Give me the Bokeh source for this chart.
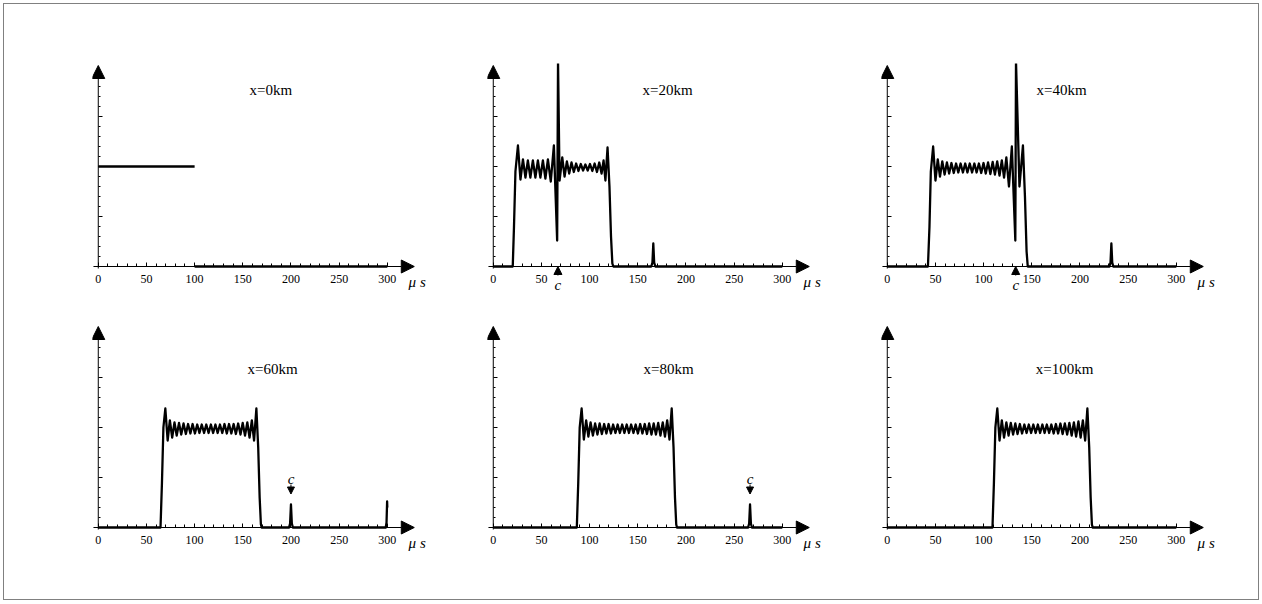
from bokeh.plotting import figure
from bokeh.layouts import gridplot
from bokeh.models import Arrow, NormalHead, FixedTicker, LinearAxis
from bokeh.core.properties import value
from bokeh.embed import file_html
from bokeh.resources import INLINE

nan = float("nan")

# ---------------- data ----------------
TITLES = ["x=0km", "x=20km", "x=40km", "x=60km", "x=80km", "x=100km"]
X_TICKS = [0, 50, 100, 150, 200, 250, 300]
X_MINOR = [0, 10, 20, 30, 40, 50, 60, 70, 80, 90, 100, 110, 120, 130, 140, 150,
           160, 170, 180, 190, 200, 210, 220, 230, 240, 250, 260, 270, 280, 290, 300]
Y_TICKS = [0.5, 1.0, 1.5]
Y_MINOR = [0.1, 0.2, 0.3, 0.4, 0.6, 0.7, 0.8, 0.9, 1.1, 1.2, 1.3, 1.4,
           1.6, 1.7, 1.8, 1.9]

# x = 0 km : the input step (drawn with a break at the jump)
t00 = [0.0, 100.0, nan, 100.0, 300.0]
v00 = [1.0, 1.0, nan, 0.0, 0.0]

# x = 20 km
t20_rise = [0.0, 20.2, 21.5, 23.0]
v20_rise = [0.0, 0.0, 0.4, 0.95]
t20_a = [25.6, 28.2, 30.8, 33.4, 35.9, 38.5, 41.1, 43.7, 46.3, 48.9, 51.5, 54.1, 56.7, 59.7, 62.9]
v20_a = [1.21, 0.87, 1.07, 0.89, 1.06, 0.89, 1.06, 0.89, 1.06, 0.89, 1.06, 0.88, 1.07, 0.85, 1.21]
t20_spike = [66.3, 67.2, 68.8]
v20_spike = [0.26, 2.05, 0.86]
t20_b = [71.6, 74.0, 76.4, 78.8, 81.2, 83.6, 86.0, 88.4, 90.8, 93.2,
         95.6, 98.0, 100.4, 102.8, 105.2, 107.6, 110.0, 112.4, 114.5, 116.4, 118.6]
v20_b = [1.09, 0.90, 1.05, 0.93, 1.04, 0.945, 1.03, 0.955, 1.025, 0.96,
         1.02, 0.96, 1.025, 0.955, 1.03, 0.945, 1.04, 0.93, 1.06, 0.86, 1.19]
t20_fall = [120.6, 122.2, 123.6, 124.6]
v20_fall = [0.8, 0.3, 0.03, 0.0]
t20_pulse = [164.0, 165.2, 166.1, 167.0, 168.2, 300.0]
v20_pulse = [0.0, 0.04, 0.23, 0.04, 0.0, 0.0]

# x = 40 km
t40_rise = [0.0, 42.2, 43.8, 45.2]
v40_rise = [0.0, 0.0, 0.4, 0.95]
t40_a = [47.6, 50.0, 52.4, 54.7, 57.1, 59.5, 61.9, 64.2, 66.6, 69.0,
         71.4, 73.7, 76.1, 78.5, 80.9, 83.2, 85.6, 88.0, 90.4, 92.7,
         95.1, 97.5, 99.9, 102.2, 104.6, 107.0, 109.4, 111.7, 114.1, 116.5,
         118.9, 121.2, 123.6]
v40_a = [1.20, 0.86, 1.07, 0.90, 1.05, 0.92, 1.04, 0.93, 1.035, 0.935,
         1.03, 0.94, 1.03, 0.94, 1.03, 0.94, 1.03, 0.94, 1.03, 0.94,
         1.03, 0.935, 1.035, 0.93, 1.04, 0.925, 1.045, 0.92, 1.05, 0.91,
         1.06, 0.89, 1.09]
t40_spike = [126.3, 129.3, 132.9, 133.6, 137.2, 140.8]
v40_spike = [0.80, 1.20, 0.26, 2.05, 0.80, 1.21]
t40_fall = [142.9, 144.6, 145.8]
v40_fall = [0.7, 0.15, 0.0]
t40_pulse = [230.6, 231.7, 232.6, 233.5, 234.6, 300.0]
v40_pulse = [0.0, 0.04, 0.23, 0.04, 0.0, 0.0]

# x = 60 km
t60_rise = [0.0, 64.6, 66.1, 67.6]
v60_rise = [0.0, 0.0, 0.45, 1.0]
t60_a = [69.6, 72.0, 74.3, 76.7, 79.1, 81.4, 83.8, 86.1, 88.5, 90.9,
         93.2, 95.6, 97.9, 100.3, 102.7, 105.0, 107.4, 109.8, 112.1, 114.5,
         116.9, 119.2, 121.6, 123.9, 126.3, 128.7, 131.0, 133.4, 135.7, 138.1,
         140.5, 142.8, 145.2, 147.6, 149.9, 152.3, 154.7, 157.0, 159.4, 161.7,
         164.1]
v60_a = [1.19, 0.87, 1.07, 0.90, 1.05, 0.92, 1.045, 0.93, 1.04, 0.935,
         1.035, 0.94, 1.035, 0.94, 1.03, 0.945, 1.03, 0.945, 1.03, 0.945,
         1.03, 0.945, 1.03, 0.945, 1.03, 0.945, 1.035, 0.94, 1.035, 0.94,
         1.035, 0.935, 1.04, 0.93, 1.045, 0.92, 1.05, 0.90, 1.07, 0.87,
         1.19]
t60_fall = [166.0, 167.5, 168.8, 169.6]
v60_fall = [0.8, 0.3, 0.03, 0.0]
t60_pulse = [198.0, 199.1, 200.0, 200.9, 202.0, 298.4, 299.2, 299.8, 300.0]
v60_pulse = [0.0, 0.04, 0.23, 0.04, 0.0, 0.0, 0.05, 0.26, 0.2]

# x = 80 km
t80_rise = [0.0, 86.7, 88.2, 89.7]
v80_rise = [0.0, 0.0, 0.45, 1.0]
t80_a = [91.7, 94.0, 96.4, 98.7, 101.0, 103.4, 105.7, 108.1, 110.4, 112.7,
         115.1, 117.4, 119.7, 122.1, 124.4, 126.8, 129.1, 131.4, 133.8, 136.1,
         138.5, 140.8, 143.1, 145.5, 147.8, 150.1, 152.5, 154.8, 157.2, 159.5,
         161.8, 164.2, 166.5, 168.8, 171.2, 173.5, 175.9, 178.2, 180.5, 182.9,
         185.2]
v80_a = [1.19, 0.88, 1.07, 0.91, 1.05, 0.92, 1.04, 0.93, 1.04, 0.935,
         1.035, 0.94, 1.035, 0.94, 1.03, 0.945, 1.03, 0.945, 1.03, 0.945,
         1.03, 0.945, 1.03, 0.945, 1.03, 0.94, 1.035, 0.94, 1.035, 0.935,
         1.04, 0.93, 1.04, 0.93, 1.045, 0.92, 1.05, 0.91, 1.07, 0.88,
         1.19]
t80_fall = [187.1, 188.6, 189.9, 190.7]
v80_fall = [0.8, 0.3, 0.03, 0.0]
t80_pulse = [264.5, 265.6, 266.5, 267.4, 268.5, 300.0]
v80_pulse = [0.0, 0.04, 0.23, 0.04, 0.0, 0.0]

# x = 100 km
t100_rise = [0.0, 109.2, 110.7, 112.2]
v100_rise = [0.0, 0.0, 0.45, 1.0]
t100_a = [114.2, 116.5, 118.9, 121.2, 123.6, 125.9, 128.2, 130.6, 132.9, 135.2,
          137.6, 139.9, 142.3, 144.6, 146.9, 149.3, 151.6, 154.0, 156.3, 158.6,
          161.0, 163.3, 165.6, 168.0, 170.3, 172.7, 175.0, 177.3, 179.7, 182.0,
          184.3, 186.7, 189.0, 191.4, 193.7, 196.0, 198.4, 200.7, 203.0, 205.4,
          207.7]
v100_a = [1.19, 0.87, 1.07, 0.90, 1.05, 0.92, 1.045, 0.93, 1.04, 0.935,
          1.035, 0.94, 1.03, 0.945, 1.03, 0.945, 1.03, 0.945, 1.03, 0.945,
          1.03, 0.945, 1.03, 0.945, 1.03, 0.94, 1.035, 0.94, 1.04, 0.935,
          1.04, 0.93, 1.045, 0.92, 1.05, 0.91, 1.06, 0.90, 1.07, 0.87,
          1.19]
t100_fall = [209.6, 211.1, 212.4, 213.2, 300.0]
v100_fall = [0.8, 0.3, 0.03, 0.0, 0.0]

# positions of the "c" markers (microseconds)
C_UP = {1: 67.1, 2: 133.3}      # arrow under the axis, pointing up
C_DOWN = {3: 200.0, 4: 266.5}   # arrow above the small pulse, pointing down

SERIES = [
    (t00, v00),
    (t20_rise + t20_a + t20_spike + t20_b + t20_fall + t20_pulse,
     v20_rise + v20_a + v20_spike + v20_b + v20_fall + v20_pulse),
    (t40_rise + t40_a + t40_spike + t40_fall + t40_pulse,
     v40_rise + v40_a + v40_spike + v40_fall + v40_pulse),
    (t60_rise + t60_a + t60_fall + t60_pulse,
     v60_rise + v60_a + v60_fall + v60_pulse),
    (t80_rise + t80_a + t80_fall + t80_pulse,
     v80_rise + v80_a + v80_fall + v80_pulse),
    (t100_rise + t100_a + t100_fall,
     v100_rise + v100_a + v100_fall),
]
for tt, vv in SERIES:
    assert len(tt) == len(vv)

# ---------------- layout ----------------
FRAME_W, FRAME_H = 345, 233
COL_BORDERS = [(88, 40), (10, 39), (10, 32)]   # (left, right)
ROW_BORDERS = [(59, 26), (2, 42)]              # (top, bottom)
TITLE_X = [179, 181, 181, 181, 182, 184]
TITLE_Y = [1.77, 1.77, 1.77, 1.59, 1.59, 1.59]
SERIF = "Liberation Serif"


def tick_only_axis(ticks, length):
    """A label-free vertical axis at x = 0 that only draws short inward ticks."""
    ax = LinearAxis(ticker=FixedTicker(ticks=[], minor_ticks=ticks),
                    fixed_location=0, axis_line_color=None,
                    major_tick_in=0, major_tick_out=0,
                    minor_tick_in=length, minor_tick_out=0,
                    minor_tick_line_color="black")
    return ax


def make_panel(i):
    r, c = divmod(i, 3)
    L, R = COL_BORDERS[c]
    T, B = ROW_BORDERS[r]
    p = figure(width=L + FRAME_W + R, height=T + FRAME_H + B,
               x_range=(-6, 352.1), y_range=(-0.30, 2.03),
               output_backend="svg", toolbar_location=None,
               y_axis_type=None,
               min_border_left=L, min_border_right=R,
               min_border_top=T, min_border_bottom=B)
    p.outline_line_color = None
    p.grid.visible = False
    p.background_fill_color = "white"
    p.border_fill_color = "white"

    xa = p.xaxis[0]
    xa.fixed_location = 0
    xa.ticker = FixedTicker(ticks=X_TICKS, minor_ticks=X_MINOR)
    xa.axis_line_color = None
    xa.major_tick_in = 4
    xa.major_tick_out = 0
    xa.minor_tick_in = 3
    xa.minor_tick_out = 0
    xa.major_tick_line_color = "black"
    xa.minor_tick_line_color = "black"
    xa.major_label_standoff = 8
    xa.major_label_text_font = SERIF
    xa.major_label_text_font_size = "12px"
    xa.major_label_text_color = "black"

    # y axis: ticks only (no labels in the reference)
    p.add_layout(tick_only_axis(Y_MINOR, 2), "left")
    p.add_layout(tick_only_axis(Y_TICKS, 4), "left")

    # axes with arrow heads
    p.add_layout(Arrow(end=NormalHead(size=13, fill_color="black", line_color="black", line_width=1),
                       x_start=-5, y_start=0, x_end=328, y_end=0,
                       line_color="black", line_width=1))
    p.add_layout(Arrow(end=NormalHead(size=13, fill_color="black", line_color="black", line_width=1),
                       x_start=0, y_start=-0.02, x_end=0, y_end=2.01,
                       line_color="black", line_width=1))

    tt, vv = SERIES[i]
    p.line(tt, vv, line_width=2.3, line_color="black", line_join="round")

    p.text(x=[TITLE_X[i]], y=[TITLE_Y[i]], text=[TITLES[i]],
           text_font=value(SERIF), text_font_size="15px",
           text_align="center", text_baseline="middle", text_color="black")
    p.text(x=[331], y=[-0.15], text=["\u03bc s"],
           text_font=value(SERIF), text_font_style="italic", text_font_size="15px",
           text_align="center", text_baseline="middle", text_color="black")

    if i in C_UP:
        cx = C_UP[i]
        p.add_layout(Arrow(end=NormalHead(size=8, fill_color="black", line_color="black", line_width=1),
                           x_start=cx, y_start=-0.09, x_end=cx, y_end=0.0,
                           line_color="black", line_width=1))
        p.text(x=[cx], y=[-0.18], text=["c"], text_font=value(SERIF),
               text_font_style="italic", text_font_size="15px",
               text_align="center", text_baseline="middle", text_color="black")
    if i in C_DOWN:
        cx = C_DOWN[i]
        p.add_layout(Arrow(end=NormalHead(size=7, fill_color="black", line_color="black", line_width=1),
                           x_start=cx, y_start=0.43, x_end=cx, y_end=0.335,
                           line_color="black", line_width=1))
        p.text(x=[cx], y=[0.49], text=["c"], text_font=value(SERIF),
               text_font_style="italic", text_font_size="15px",
               text_align="center", text_baseline="middle", text_color="black")
    return p


panels = [make_panel(i) for i in range(6)]
grid = gridplot([panels[0:3], panels[3:6]], toolbar_location=None)
grid.styles = {"border": "1px solid #808080", "margin": "3px 0px 0px 3px"}

open("out.html", "w").write(file_html(grid, INLINE))
